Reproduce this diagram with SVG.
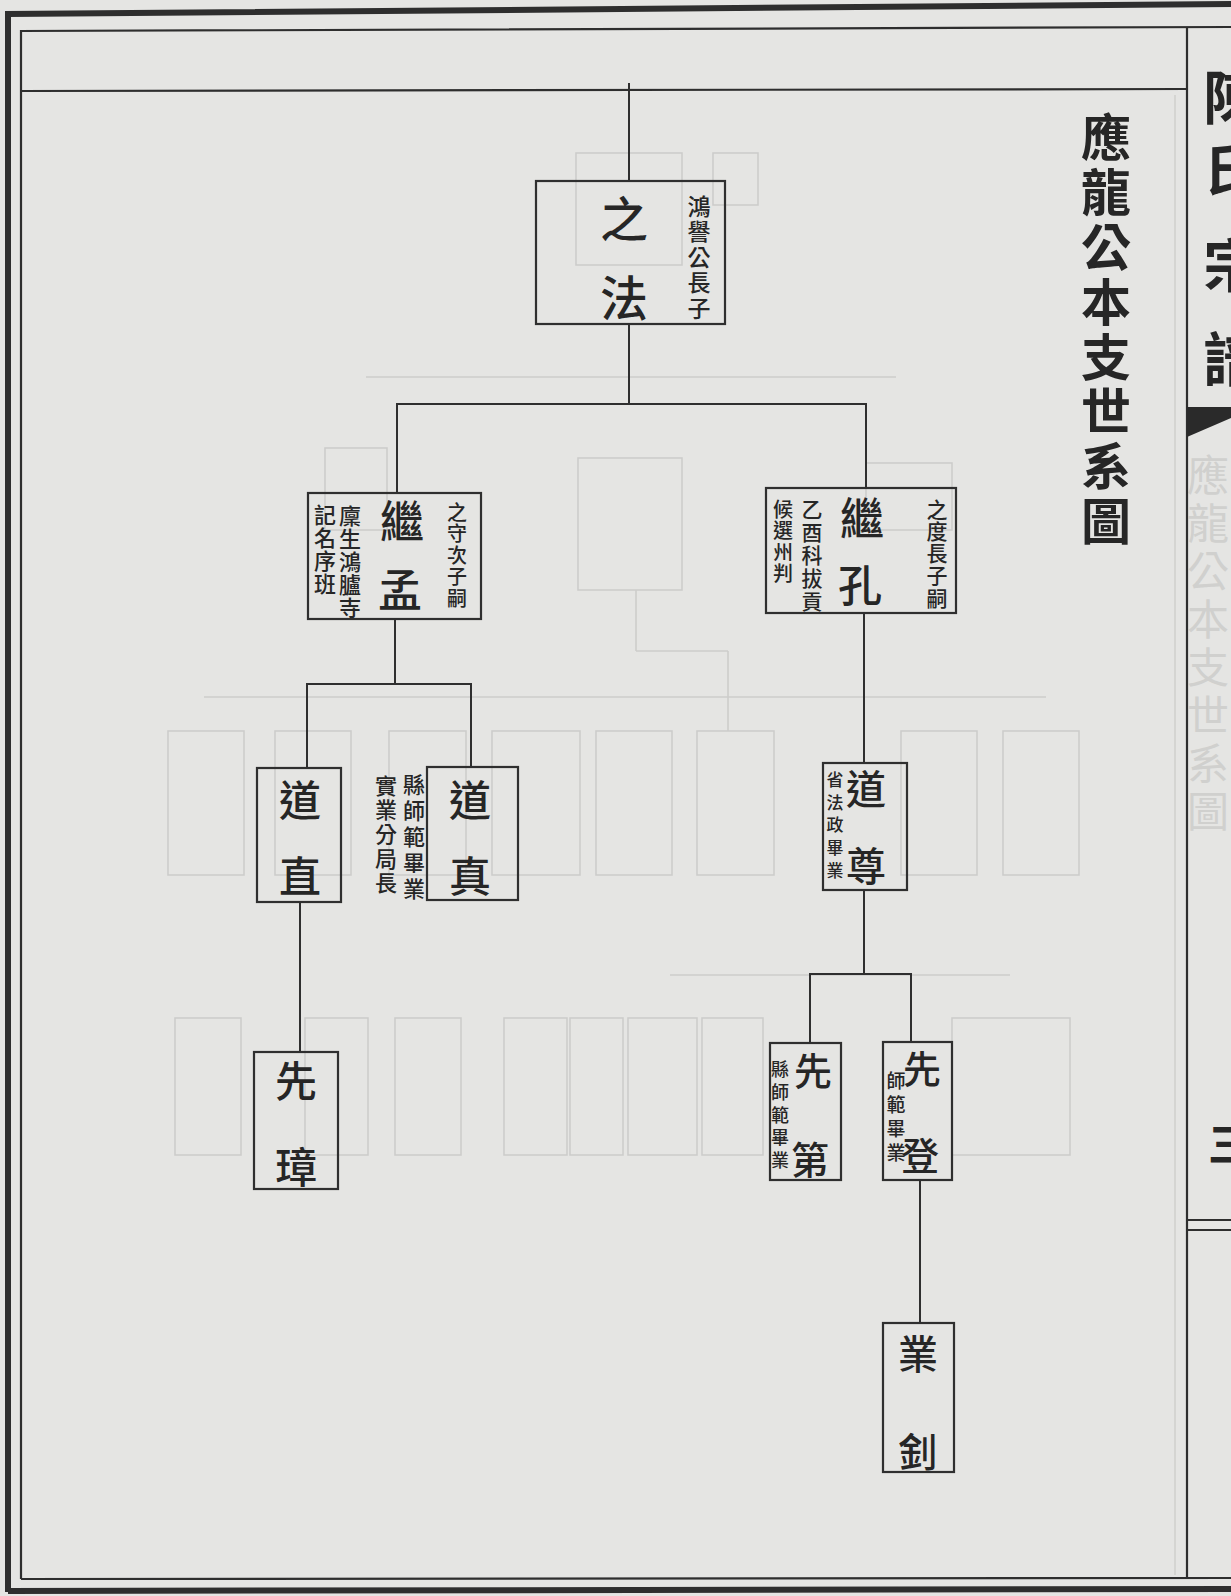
<svg xmlns="http://www.w3.org/2000/svg" width="1231" height="1596" viewBox="0 0 1231 1596">
<defs>
<style>
.paper{fill:#e5e5e3}
.frame{fill:none;stroke:#2e2e2e}
.box{fill:none;stroke:#2f2f2f;stroke-width:2.2}
.conn line{stroke:#2f2f2f;stroke-width:2}
.ghost rect,.ghost line{fill:none;stroke:#cdcdcb;stroke-width:1.6}
.ghosttxt{font-family:"Noto Sans CJK TC","Noto Sans CJK SC",sans-serif;fill:#d0d0ce;font-size:42px;text-anchor:middle;dominant-baseline:central}
text{font-family:"Noto Sans CJK TC","Noto Sans CJK SC",sans-serif;fill:#262626;text-anchor:middle;dominant-baseline:central}
.name{font-size:44px;font-weight:500}
.note{font-size:20px;font-weight:500}
.title{font-size:50px;font-weight:700}
.mg{font-size:58px;font-weight:700}
</style>
</defs>
<rect class="paper" x="0" y="0" width="1231" height="1596"/>

<!-- faint bleed-through from the other side of the page -->
<g class="ghost">
<rect x="576" y="153" width="106" height="112"/>
<rect x="713" y="153" width="45" height="52"/>
<line x1="366" y1="377" x2="896" y2="377"/>
<rect x="325" y="448" width="62" height="82"/>
<rect x="578" y="458" width="104" height="132"/>
<rect x="866" y="463" width="86" height="67"/>
<line x1="636" y1="651" x2="728" y2="651"/>
<line x1="636" y1="590" x2="636" y2="651"/>
<line x1="728" y1="651" x2="728" y2="731"/>
<line x1="204" y1="697" x2="1046" y2="697"/>
<rect x="168" y="731" width="76" height="144"/>
<rect x="275" y="731" width="76" height="144"/>
<rect x="389" y="731" width="77" height="144"/>
<rect x="492" y="731" width="88" height="144"/>
<rect x="596" y="731" width="76" height="144"/>
<rect x="697" y="731" width="77" height="144"/>
<rect x="901" y="731" width="76" height="144"/>
<rect x="1003" y="731" width="76" height="144"/>
<line x1="670" y1="975" x2="1010" y2="975"/>
<rect x="175" y="1018" width="66" height="137"/>
<rect x="305" y="1018" width="63" height="137"/>
<rect x="395" y="1018" width="66" height="137"/>
<rect x="504" y="1018" width="63" height="137"/>
<rect x="570" y="1018" width="53" height="137"/>
<rect x="628" y="1018" width="69" height="137"/>
<rect x="702" y="1018" width="61" height="137"/>
<rect x="952" y="1018" width="118" height="137"/>
</g>
<g id="ghost-text">
<text class="ghosttxt" x="1208" y="472">應</text>
<text class="ghosttxt" x="1208" y="520">龍</text>
<text class="ghosttxt" x="1208" y="568">公</text>
<text class="ghosttxt" x="1208" y="616">本</text>
<text class="ghosttxt" x="1208" y="664">支</text>
<text class="ghosttxt" x="1208" y="712">世</text>
<text class="ghosttxt" x="1208" y="760">系</text>
<text class="ghosttxt" x="1208" y="808">圖</text>
</g>

<!-- page frame -->
<g id="frame">
<path class="frame" d="M8 1592 L8 14 L1231 4" stroke-width="6"/>
<line class="frame" x1="8" y1="1591" x2="1231" y2="1589" stroke-width="6"/>
<path class="frame" d="M21 1579 L21 31 L1231 27" stroke-width="2.2"/>
<line class="frame" x1="21" y1="1579" x2="1231" y2="1578" stroke-width="2.2"/>
<line class="frame" x1="21" y1="91" x2="1187" y2="89" stroke-width="2.2"/>
<line class="frame" x1="1187" y1="28" x2="1187" y2="1579" stroke-width="2.2"/>
<line x1="1175" y1="95" x2="1175" y2="1575" stroke="#cfcfcd" stroke-width="1.5"/>
<polygon points="1187,407 1231,407 1231,418 1187,437" fill="#2a2a2a"/>
<line class="frame" x1="1188" y1="1220" x2="1231" y2="1220" stroke-width="2"/>
<line class="frame" x1="1188" y1="1230" x2="1231" y2="1230" stroke-width="2"/>
</g>

<!-- margin text (cut by the page edge, as in the scan) -->
<g id="margin">
<text class="mg" x="1232" y="94">陳</text>
<text class="mg" x="1232" y="166">氏</text>
<text class="mg" x="1232" y="262">宗</text>
<text class="mg" x="1232" y="356">譜</text>
<text class="mg" style="font-size:44px" x="1230" y="1142">三</text>
</g>

<!-- title -->
<g id="title">
<text class="title" x="1106" y="134">應</text>
<text class="title" x="1106" y="189">龍</text>
<text class="title" x="1106" y="244">公</text>
<text class="title" x="1106" y="299">本</text>
<text class="title" x="1106" y="354">支</text>
<text class="title" x="1106" y="408">世</text>
<text class="title" x="1106" y="463">系</text>
<text class="title" x="1106" y="518">圖</text>
</g>

<!-- connectors -->
<g id="connectors" class="conn">
<line x1="629" y1="83" x2="629" y2="181"/>
<line x1="629" y1="324" x2="629" y2="404"/>
<line x1="396" y1="404" x2="867" y2="404"/>
<line x1="397" y1="404" x2="397" y2="493"/>
<line x1="866" y1="404" x2="866" y2="488"/>
<line x1="395" y1="619" x2="395" y2="684"/>
<line x1="306" y1="684" x2="472" y2="684"/>
<line x1="307" y1="684" x2="307" y2="768"/>
<line x1="471" y1="684" x2="471" y2="767"/>
<line x1="300" y1="902" x2="300" y2="1052"/>
<line x1="864" y1="613" x2="864" y2="763"/>
<line x1="864" y1="890" x2="864" y2="974"/>
<line x1="809" y1="974" x2="912" y2="974"/>
<line x1="810" y1="974" x2="810" y2="1043"/>
<line x1="911" y1="974" x2="911" y2="1042"/>
<line x1="920" y1="1180" x2="920" y2="1323"/>
</g>

<!-- nodes -->
<g id="n-zhifa">
<rect class="box" x="536" y="181" width="189" height="143"/>
<text class="name" style="font-size:48px" x="624" y="216">之</text>
<text class="name" style="font-size:48px" x="624" y="295">法</text>
<text class="note" style="font-size:23px" x="699" y="205">鴻</text>
<text class="note" style="font-size:23px" x="699" y="230">譽</text>
<text class="note" style="font-size:23px" x="699" y="256">公</text>
<text class="note" style="font-size:23px" x="699" y="281">長</text>
<text class="note" style="font-size:23px" x="699" y="307">子</text>
</g>

<g id="n-jimeng">
<rect class="box" x="308" y="493" width="173" height="126"/>
<text class="name" x="402" y="519">繼</text>
<text class="name" x="400" y="588">孟</text>
<text class="note" x="457" y="511">之</text>
<text class="note" x="457" y="532">守</text>
<text class="note" x="457" y="554">次</text>
<text class="note" x="457" y="575">子</text>
<text class="note" x="457" y="597">嗣</text>
<text class="note" style="font-size:22px" x="350" y="514">廩</text>
<text class="note" style="font-size:22px" x="350" y="537">生</text>
<text class="note" style="font-size:22px" x="350" y="560">鴻</text>
<text class="note" style="font-size:22px" x="350" y="583">臚</text>
<text class="note" style="font-size:22px" x="350" y="606">寺</text>
<text class="note" style="font-size:22px" x="325" y="513">記</text>
<text class="note" style="font-size:22px" x="325" y="536">名</text>
<text class="note" style="font-size:22px" x="325" y="559">序</text>
<text class="note" style="font-size:22px" x="325" y="582">班</text>
</g>

<g id="n-jikong">
<rect class="box" x="766" y="488" width="190" height="125"/>
<text class="name" x="862" y="516">繼</text>
<text class="name" x="860" y="583">孔</text>
<text class="note" style="font-size:21px" x="937" y="508">之</text>
<text class="note" style="font-size:21px" x="937" y="530">度</text>
<text class="note" style="font-size:21px" x="937" y="552">長</text>
<text class="note" style="font-size:21px" x="937" y="574">子</text>
<text class="note" style="font-size:21px" x="937" y="597">嗣</text>
<text class="note" style="font-size:21px" x="812" y="508">乙</text>
<text class="note" style="font-size:21px" x="812" y="531">酉</text>
<text class="note" style="font-size:21px" x="812" y="554">科</text>
<text class="note" style="font-size:21px" x="812" y="577">拔</text>
<text class="note" style="font-size:21px" x="812" y="600">貢</text>
<text class="note" x="783" y="508">候</text>
<text class="note" x="783" y="529">選</text>
<text class="note" x="783" y="551">州</text>
<text class="note" x="783" y="572">判</text>
</g>

<g id="n-daozhi">
<rect class="box" x="257" y="768" width="84" height="134"/>
<text class="name" style="font-size:42px" x="300" y="797">道</text>
<text class="name" style="font-size:42px" x="300" y="873">直</text>
</g>

<g id="n-daozhen">
<rect class="box" x="427" y="767" width="91" height="133"/>
<text class="name" style="font-size:42px" x="470" y="797">道</text>
<text class="name" style="font-size:42px" x="470" y="873">真</text>
<text class="note" style="font-size:22px" x="414" y="783">縣</text>
<text class="note" style="font-size:22px" x="414" y="809">師</text>
<text class="note" style="font-size:22px" x="414" y="835">範</text>
<text class="note" style="font-size:22px" x="414" y="861">畢</text>
<text class="note" style="font-size:22px" x="414" y="887">業</text>
<text class="note" style="font-size:22px" x="386" y="784">實</text>
<text class="note" style="font-size:22px" x="386" y="808">業</text>
<text class="note" style="font-size:22px" x="386" y="832">分</text>
<text class="note" style="font-size:22px" x="386" y="857">局</text>
<text class="note" style="font-size:22px" x="386" y="881">長</text>
</g>

<g id="n-daozun">
<rect class="box" x="823" y="763" width="84" height="127"/>
<text class="name" style="font-size:40px" x="866" y="787">道</text>
<text class="name" style="font-size:40px" x="866" y="864">尊</text>
<text class="note" style="font-size:17px" x="835" y="778">省</text>
<text class="note" style="font-size:17px" x="835" y="801">法</text>
<text class="note" style="font-size:17px" x="835" y="823">政</text>
<text class="note" style="font-size:17px" x="835" y="846">畢</text>
<text class="note" style="font-size:17px" x="835" y="869">業</text>
</g>

<g id="n-xianzhang">
<rect class="box" x="254" y="1052" width="84" height="137"/>
<text class="name" style="font-size:42px" x="296" y="1078">先</text>
<text class="name" style="font-size:42px" x="296" y="1164">璋</text>
</g>

<g id="n-xiandi">
<rect class="box" x="770" y="1043" width="71" height="137"/>
<text class="name" style="font-size:38px" x="813" y="1068">先</text>
<text class="name" style="font-size:38px" x="810" y="1157">第</text>
<text class="note" style="font-size:18px" x="780" y="1068">縣</text>
<text class="note" style="font-size:18px" x="780" y="1091">師</text>
<text class="note" style="font-size:18px" x="780" y="1114">範</text>
<text class="note" style="font-size:18px" x="780" y="1136">畢</text>
<text class="note" style="font-size:18px" x="780" y="1159">業</text>
</g>

<g id="n-xiandeng">
<rect class="box" x="883" y="1042" width="69" height="138"/>
<text class="name" style="font-size:38px" x="922" y="1066">先</text>
<text class="name" style="font-size:38px" x="920" y="1153">登</text>
<text class="note" style="font-size:19px" x="896" y="1079">師</text>
<text class="note" style="font-size:19px" x="896" y="1103">範</text>
<text class="note" style="font-size:19px" x="896" y="1127">畢</text>
<text class="note" style="font-size:19px" x="896" y="1151">業</text>
</g>

<g id="n-yezhao">
<rect class="box" x="883" y="1323" width="71" height="149"/>
<text class="name" style="font-size:40px" x="918" y="1352">業</text>
<text class="name" style="font-size:40px" x="918" y="1450">釗</text>
</g>
</svg>
